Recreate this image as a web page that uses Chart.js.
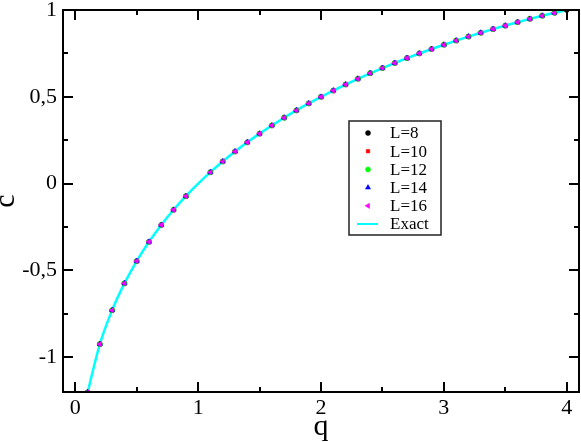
<!DOCTYPE html>
<html><head><meta charset="utf-8">
<script src="https://cdn.jsdelivr.net/npm/chart.js@4/dist/chart.umd.min.js"></script>
<style>html,body{margin:0;padding:0;background:#fff;overflow:hidden}</style>
</head><body>
<canvas id="c" width="581" height="442"></canvas>
<script>
// ---- data ----
const qPoints = [0.1,0.2,0.3,0.4,0.5,0.6,0.7,0.8,0.9,
  1.1,1.2,1.3,1.4,1.5,1.6,1.7,1.8,1.9,2.0,2.1,2.2,2.3,2.4,2.5,2.6,2.7,2.8,2.9,
  3.0,3.1,3.2,3.3,3.4,3.5,3.6,3.7,3.8,3.9];
const qL8 = [0.1,0.2,0.3,0.4,0.5,0.6,0.7,0.8,0.9,
  1.1,1.2,1.3,1.4,1.5,1.6,1.7,1.8,1.9,2.0,2.1,2.2,2.3,2.4,2.5,2.6,2.7,2.8,2.9,
  3.0,3.1,3.2,3.3,3.4,3.5,3.6,3.7,3.8,3.9,4.0];
const cL8 = [-1.202,-0.924,-0.729,-0.574,-0.446,-0.335,-0.238,-0.151,-0.072,
  0.066,0.128,0.185,0.238,0.288,0.335,0.380,0.422,0.462,0.500,0.536,0.571,0.604,0.636,0.666,0.695,0.723,0.750,0.775,
  0.800,0.824,0.847,0.869,0.890,0.910,0.930,0.949,0.967,0.984,1.000];
const cL10 = [-1.202,-0.924,-0.729,-0.574,-0.446,-0.335,-0.238,-0.151,-0.072,
  0.066,0.128,0.185,0.238,0.288,0.335,0.380,0.422,0.462,0.500,0.536,0.571,0.604,0.636,0.666,0.695,0.723,0.750,0.775,
  0.800,0.824,0.847,0.869,0.890,0.910,0.930,0.949,0.967,0.984];
const cL12 = [-1.202,-0.924,-0.729,-0.574,-0.446,-0.335,-0.238,-0.151,-0.072,
  0.066,0.128,0.185,0.238,0.288,0.335,0.380,0.422,0.462,0.500,0.536,0.571,0.604,0.636,0.666,0.695,0.723,0.750,0.775,
  0.800,0.824,0.847,0.869,0.890,0.910,0.930,0.949,0.967,0.984];
const cL14 = [-1.202,-0.924,-0.729,-0.574,-0.446,-0.335,-0.238,-0.151,-0.072,
  0.066,0.128,0.185,0.238,0.288,0.335,0.380,0.422,0.462,0.500,0.536,0.571,0.604,0.636,0.666,0.695,0.723,0.750,0.775,
  0.800,0.824,0.847,0.869,0.890,0.910,0.930,0.949,0.967,0.984];
const cL16 = [-1.202,-0.924,-0.729,-0.574,-0.446,-0.335,-0.238,-0.151,-0.072,
  0.066,0.128,0.185,0.238,0.288,0.335,0.380,0.422,0.462,0.500,0.536,0.571,0.604,0.636,0.666,0.695,0.723,0.750,0.775,
  0.800,0.824,0.847,0.869,0.890,0.910,0.930,0.949,0.967,0.984];
const qExact = [0.1,0.2,0.3,0.4,0.5,0.6,0.7,0.8,0.9,1.0,
  1.1,1.2,1.3,1.4,1.5,1.6,1.7,1.8,1.9,2.0,2.1,2.2,2.3,2.4,2.5,2.6,2.7,2.8,2.9,
  3.0,3.1,3.2,3.3,3.4,3.5,3.6,3.7,3.8,3.9,4.0];
const cExact = [-1.2016,-0.9241,-0.7286,-0.5744,-0.4458,-0.3351,-0.2378,-0.1507,-0.0719,0.0,
  0.0662,0.1275,0.1846,0.2379,0.2880,0.3352,0.3797,0.4219,0.4619,0.5000,0.5363,0.5709,0.6039,0.6355,0.6658,0.6949,0.7228,0.7495,0.7753,
  0.8000,0.8238,0.8467,0.8687,0.8899,0.9103,0.9299,0.9487,0.9667,0.9839,1.0];
const seriesNames = ['L=8','L=10','L=12','L=14','L=16','Exact'];
const xTicks = [0,1,2,3,4];
const xTickLabels = ['0','1','2','3','4'];
const xMinor = [0.5,1.5,2.5,3.5];
const yTicks = [-1,-0.5,0,0.5,1];
const yTickLabels = ['-1','-0,5','0','0,5','1'];
const yMinor = [-0.75,-0.25,0.25,0.75];

const pts = (xs, ys) => ys.map((v,i)=>({x:xs[i], y:v}));
const SERIF = "'Liberation Serif', 'DejaVu Serif', serif";

const mk = (label, xs, ys, color, style, r, rot, order) => ({
  label, data: pts(xs, ys), showLine:false,
  pointStyle: style, pointRadius: r, pointRotation: rot,
  backgroundColor: color, borderColor: color, pointBorderWidth: 0.5, order
});

const datasets = [
  {label:seriesNames[5], data: pts(qExact, cExact), showLine:true, borderColor:'#00ffff', borderWidth:2.5,
   pointRadius:0, cubicInterpolationMode:'monotone', order:10},
  mk(seriesNames[0], qL8, cL8, '#000000', 'circle', 2.5, 0, 5),
  mk(seriesNames[1], qPoints, cL10, '#ff0000', 'rect', 2.5, 0, 4),
  mk(seriesNames[2], qPoints, cL12, '#00ff00', 'circle', 2.5, 0, 3),
  mk(seriesNames[3], qPoints, cL14, '#0000ff', 'triangle', 3, 0, 2),
  mk(seriesNames[4], qPoints, cL16, '#ff00ff', 'triangle', 3, -90, 1)
];

const framePlugin = {
  id: 'frame',
  afterDraw(chart) {
    const {ctx, chartArea: a, scales: {x, y}} = chart;
    ctx.save();
    ctx.strokeStyle = '#000'; ctx.lineWidth = 2;
    const seg = (x1,y1,x2,y2)=>{ctx.beginPath();ctx.moveTo(x1,y1);ctx.lineTo(x2,y2);ctx.stroke();};
    xTicks.forEach(v=>{const p=Math.round(x.getPixelForValue(v)); seg(p,a.bottom,p,a.bottom-10); seg(p,a.top,p,a.top+10);});
    xMinor.forEach(v=>{const p=Math.round(x.getPixelForValue(v)); seg(p,a.bottom,p,a.bottom-5); seg(p,a.top,p,a.top+5);});
    yTicks.forEach(v=>{const p=Math.round(y.getPixelForValue(v)); seg(a.left,p,a.left+10,p); seg(a.right,p,a.right-10,p);});
    yMinor.forEach(v=>{const p=Math.round(y.getPixelForValue(v)); seg(a.left,p,a.left+5,p); seg(a.right,p,a.right-5,p);});
    ctx.strokeRect(a.left, a.top, a.right-a.left, a.bottom-a.top);

    // legend
    const bx = 349, by = 121, bw = 92, bh = 114;
    ctx.fillStyle = '#fff'; ctx.fillRect(bx, by, bw, bh);
    ctx.lineWidth = 1.5; ctx.strokeStyle = '#222';
    ctx.strokeRect(bx, by, bw, bh);
    ctx.font = "17px " + SERIF; ctx.textBaseline = 'middle'; ctx.textAlign = 'left';
    const order = [1,2,3,4,5,0];
    order.forEach((di, row) => {
      const ds = chart.data.datasets[di];
      const cy = by + 12 + row * 18.2;
      if (ds.showLine) {
        ctx.strokeStyle = ds.borderColor; ctx.lineWidth = 2;
        seg(bx + 8, cy, bx + 29, cy);
      } else {
        ctx.fillStyle = ds.backgroundColor; ctx.strokeStyle = ds.borderColor; ctx.lineWidth = 0.5;
        Chart.helpers.drawPoint(ctx, {pointStyle: ds.pointStyle, radius: ds.pointRadius, rotation: ds.pointRotation, borderWidth: 0.5}, bx + 19, cy);
      }
      ctx.fillStyle = '#000';
      ctx.fillText(ds.label, bx + 41, cy + 1);
    });
    ctx.restore();
  }
};

new Chart(document.getElementById('c'), {
  type: 'scatter',
  data: { datasets },
  options: {
    responsive: false, animation: false, devicePixelRatio: 1,
    layout: { autoPadding: false, padding: { top: 10, right: 2, left: 0, bottom: 0 } },
    plugins: { legend: { display: false }, tooltip: { enabled: false } },
    scales: {
      x: {
        type: 'linear', position: 'bottom', min: -0.1, max: 4.1,
        afterBuildTicks: s => { s.ticks = xTicks.map(v => ({value: v})); },
        afterFit: s => { s.height = 50; s.paddingLeft = 0; s.paddingRight = 0; s.paddingTop = 0; s.paddingBottom = 0; },
        grid: { display: false, drawTicks: false }, border: { display: false },
        ticks: { padding: 3, color: '#000', autoSkip: false, maxRotation: 0,
          font: { family: SERIF, size: 22 }, callback: (v, i) => xTickLabels[i] },
        title: { display: true, text: 'q', color: '#000', font: { family: SERIF, size: 30, lineHeight: 0.87 },
          padding: { top: 0, bottom: 2 } }
      },
      y: {
        type: 'linear', position: 'left', min: -1.2, max: 1,
        afterBuildTicks: s => { s.ticks = yTicks.map(v => ({value: v})); },
        afterFit: s => { s.width = 63; s.paddingLeft = 0; s.paddingRight = 0; s.paddingTop = 0; s.paddingBottom = 0; },
        grid: { display: false, drawTicks: false }, border: { display: false },
        ticks: { padding: 6, color: '#000', autoSkip: false,
          font: { family: SERIF, size: 22 }, callback: (v, i) => yTickLabels[i] },
        title: { display: true, text: 'c', color: '#000', font: { family: SERIF, size: 30, lineHeight: 0.4 },
          padding: { top: 0, bottom: 0 } }
      }
    }
  },
  plugins: [framePlugin]
});
</script>
</body></html>
